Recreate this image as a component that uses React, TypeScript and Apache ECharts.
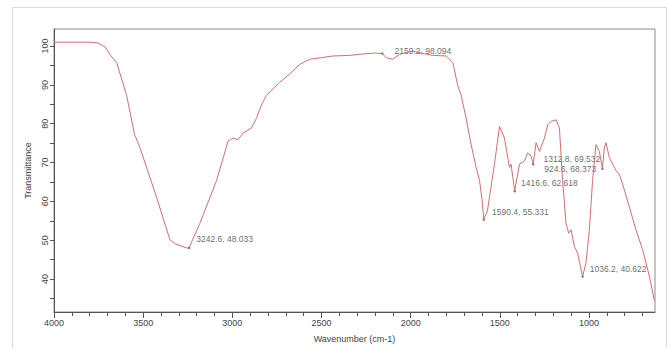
import React, { useEffect, useRef } from 'react';
import * as echarts from 'echarts';

// Spectrum trace (wavenumber cm-1, % transmittance)
const waveX = [
  4000, 3910, 3798, 3754, 3714, 3681, 3649, 3593, 3548, 3518, 3425, 3350, 3317, 3257, 3243, 3182,
  3089, 3024, 2996, 2968, 2940, 2893, 2865, 2837, 2809, 2734, 2678, 2622, 2566, 2436, 2342, 2286,
  2202, 2159, 2137, 2100, 2062, 1988, 1876, 1801, 1764, 1736, 1717, 1689, 1661, 1633, 1614, 1600,
  1590, 1570, 1530, 1502, 1474, 1446, 1437, 1417, 1390, 1362, 1344, 1325, 1313, 1297, 1278, 1250,
  1232, 1213, 1185, 1166, 1148, 1129, 1114, 1101, 1082, 1064, 1045, 1036, 1017, 998, 980, 961,
  942, 925, 914, 905, 886, 867, 849, 830, 812, 774, 737, 700, 662, 634,
];
const transY = [
  101.0, 101.0, 101.0, 100.8, 99.8, 97.5, 95.8, 87.3, 77.2, 73.8, 61.1, 50.1, 49.0, 48.0, 48.03, 54.35,
  65.3, 75.5, 76.3, 75.9, 77.6, 78.9, 81.4, 84.8, 87.3, 90.7, 92.8, 95.3, 96.6, 97.45, 97.6, 97.9,
  98.2, 98.09, 97.0, 96.6, 97.9, 98.7, 97.6, 97.45, 95.8, 89.8, 87.3, 81.4, 74.6, 68.7, 65.4, 60.5,
  55.33, 57.5, 69.6, 79.3, 76.3, 68.7, 69.6, 62.62, 69.6, 70.4, 72.5, 71.7, 69.5, 75.1, 72.9, 76.3,
  79.7, 80.6, 81.0, 78.9, 65.4, 54.35, 51.8, 52.7, 48.4, 46.7, 42.5, 40.62, 44.2, 52.7, 65.4, 74.6,
  72.9, 68.4, 73.8, 75.1, 71.3, 69.6, 67.9, 67.0, 64.5, 58.6, 52.7, 47.6, 40.8, 34.5,
];

// Peak annotations
const peakX = [3242.6, 2159.2, 1590.4, 1416.6, 1312.8, 924.6, 1036.2];
const peakY = [48.033, 98.094, 55.331, 62.618, 69.532, 68.373, 40.622];

// Axis ticks
const xLabelTicks = [4000, 3500, 3000, 2500, 2000, 1500, 1000];
const xMinorTicks = [
  4000, 3900, 3800, 3700, 3600, 3500, 3400, 3300, 3200, 3100, 3000, 2900, 2800, 2700, 2600, 2500,
  2400, 2300, 2200, 2100, 2000, 1900, 1800, 1700, 1600, 1500, 1400, 1300, 1200, 1100, 1000, 900,
  800, 700,
];
const yLabelTicks = [40, 50, 60, 70, 80, 90, 100];
const yMinorTicks = [35, 40, 45, 50, 55, 60, 65, 70, 75, 80, 85, 90, 95, 100];

const FONT = 'Liberation Sans, Arial, sans-serif';

export default function App() {
  const ref = useRef<HTMLDivElement>(null);
  useEffect(() => {
    if (!ref.current) return;
    const chart = echarts.init(ref.current, undefined, { renderer: 'svg' });
    const labelPos = ['right', 'right', 'right', 'right', 'right', 'left', 'right'];
    const labelOff = [[1, -9], [6, -2], [2, -7], [0, -8], [4, -5], [0, 0], [1, -8]];
    chart.setOption({
      animation: false,
      backgroundColor: '#ffffff',
      textStyle: { fontFamily: FONT },
      grid: {
        left: 54, top: 29, right: 16, bottom: 31,
        show: true, borderColor: '#8c8c8c', borderWidth: 1, backgroundColor: '#fff',
      },
      graphic: [
        {
          type: 'rect', silent: true, z: -1,
          shape: { x: 12.5, y: 7.5, width: 654, height: 350 },
          style: { fill: 'none', stroke: '#dcdcdc', lineWidth: 1 },
        },
      ],
      xAxis: [
        {
          type: 'value', inverse: true, min: 630, max: 4000, position: 'bottom',
          name: 'Wavenumber (cm-1)', nameLocation: 'middle', nameGap: 22,
          nameTextStyle: { fontSize: 9, color: '#444', fontFamily: FONT },
          axisLine: { show: true, onZero: false, lineStyle: { color: '#555', width: 1 } },
          axisTick: { show: true, customValues: xMinorTicks, length: 4, lineStyle: { color: '#555' } },
          axisLabel: {
            customValues: xLabelTicks, fontSize: 9, color: '#444', margin: 6, fontFamily: FONT,
            formatter: (v: number) => String(Math.round(v)),
          },
          splitLine: { show: false },
        },
        {
          type: 'value', inverse: true, min: 630, max: 4000, position: 'bottom',
          axisLine: { show: false },
          axisTick: { show: true, customValues: xLabelTicks, length: 6, lineStyle: { color: '#555' } },
          axisLabel: { show: false },
          splitLine: { show: false },
        },
      ],
      yAxis: {
        type: 'value', min: 31.5, max: 104.4,
        name: 'Transmittance', nameLocation: 'middle', nameGap: 19,
        nameTextStyle: { fontSize: 9, color: '#444', fontFamily: FONT },
        axisLine: { show: true, onZero: false, lineStyle: { color: '#555', width: 1 } },
        axisTick: { show: true, customValues: yMinorTicks, length: 4, lineStyle: { color: '#555' } },
        axisLabel: {
          customValues: yLabelTicks, rotate: 90, fontSize: 9, color: '#444', margin: 5, fontFamily: FONT,
          formatter: (v: number) => String(Math.round(v)),
        },
        splitLine: { show: false },
      },
      series: [
        {
          type: 'line',
          xAxisIndex: 0,
          data: waveX.map((x, i) => [x, transY[i]]),
          showSymbol: false,
          symbol: 'none',
          lineStyle: { color: '#cf6f6f', width: 1 },
          silent: true,
        },
        {
          type: 'scatter',
          xAxisIndex: 0,
          symbol: 'circle',
          symbolSize: 2.5,
          itemStyle: { color: '#555' },
          data: peakX.map((x, i) => ({
            value: [x, peakY[i]],
            label: { position: labelPos[i], offset: labelOff[i] },
          })),
          label: {
            show: true,
            fontSize: 8.5,
            color: '#444',
            fontFamily: FONT,
            formatter: (p: any) => `${p.value[0].toFixed(1)}, ${p.value[1].toFixed(3)}`,
          },
          silent: true,
        },
      ],
    });
    return () => chart.dispose();
  }, []);
  return (
    <div
      ref={ref}
      style={{ position: 'absolute', left: 0, top: 0, width: 671, height: 348, background: '#fff' }}
    />
  );
}
